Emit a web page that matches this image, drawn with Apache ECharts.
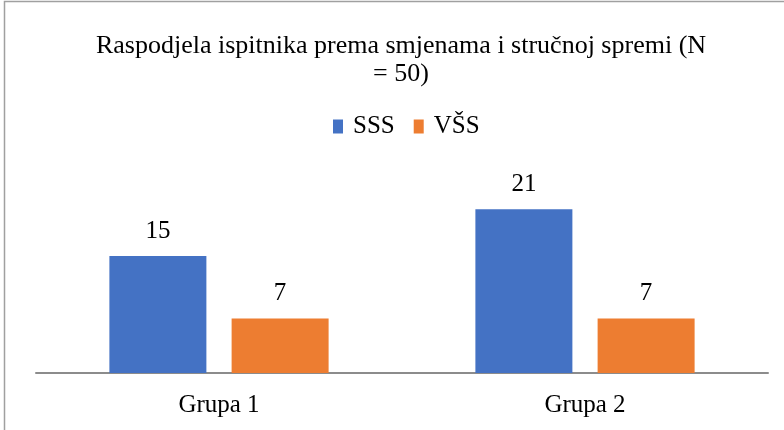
<!DOCTYPE html>
<html>
<head>
<meta charset="utf-8">
<script src="https://cdn.jsdelivr.net/npm/echarts@6/dist/echarts.min.js"></script>
<style>html,body{margin:0;padding:0;background:#fff}#c{width:784px;height:430px}</style>
</head>
<body>
<div id="c"></div>
<script>
const categories = ['Grupa 1', 'Grupa 2'];
const seriesNames = ['SSS', 'VŠS'];
const sssValues = [15, 21];
const vssValues = [7, 7];
const titleText = 'Raspodjela ispitnika prema smjenama i stručnoj spremi (N\n= 50)';

const FONT = "'Liberation Serif', 'Times New Roman', serif";
const chart = echarts.init(document.getElementById('c'), null, {renderer: 'canvas'});
chart.setOption({
  animation: false,
  textStyle: {fontFamily: FONT},
  graphic: [{
    type: 'rect', silent: true,
    shape: {x: 4.5, y: 1.5, width: 900, height: 600},
    style: {fill: 'none', stroke: '#a0a0a0', lineWidth: 1.5}
  }],
  title: {
    text: titleText,
    left: 396, top: 27, textAlign: 'center',
    textStyle: {fontFamily: FONT, fontSize: 26, fontWeight: 'normal', color: '#000', lineHeight: 28}
  },
  legend: {
    data: seriesNames,
    left: 333, top: 114, padding: 0,
    itemWidth: 10, itemHeight: 14, itemGap: 19,
    icon: 'rect',
    textStyle: {fontFamily: FONT, fontSize: 25, color: '#000', padding: [0, 0, 0, 5]}
  },
  grid: {left: 36, right: 16, top: 178, bottom: 57, containLabel: false},
  xAxis: {
    type: 'category', data: categories,
    axisLine: {lineStyle: {color: '#8c8c8c', width: 2}},
    axisTick: {show: false},
    axisLabel: {fontFamily: FONT, fontSize: 25, color: '#000', margin: 20}
  },
  yAxis: {type: 'value', min: 0, max: 25, show: false, splitLine: {show: false}},
  series: [
    {name: seriesNames[0], type: 'bar', data: sssValues, barWidth: 97, barGap: '26%',
     itemStyle: {color: '#4472C4'},
     label: {show: true, position: 'top', distance: 12, fontFamily: FONT, fontSize: 25, color: '#000'}},
    {name: seriesNames[1], type: 'bar', data: vssValues, barWidth: 97,
     itemStyle: {color: '#ED7D31'},
     label: {show: true, position: 'top', distance: 12, fontFamily: FONT, fontSize: 25, color: '#000'}}
  ]
});
</script>
</body>
</html>
